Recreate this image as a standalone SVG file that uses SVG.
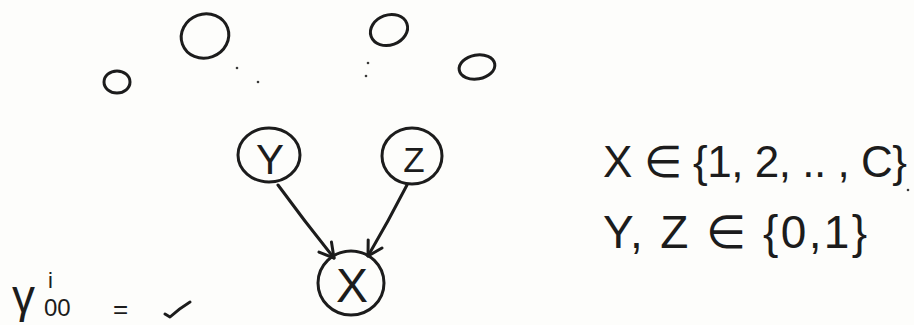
<svg xmlns="http://www.w3.org/2000/svg" width="914" height="325" viewBox="0 0 914 325">
<style>
.ink{fill:none;stroke:#1c1c1c;stroke-width:3;stroke-linecap:round;stroke-linejoin:round}
.lbl{font-family:"Liberation Sans",Arial,sans-serif;fill:#1c1c1c;font-weight:normal}
.dot{fill:#3a3a3a}
</style>
<defs>
<marker id="ah" viewBox="0 0 20 20" refX="17" refY="10" markerWidth="20" markerHeight="20" markerUnits="userSpaceOnUse" orient="auto">
<path d="M3,2 L17,10 L3,18" fill="none" stroke="#1c1c1c" stroke-width="3" stroke-linecap="round" stroke-linejoin="round"/>
</marker>
</defs>
<rect width="914" height="325" fill="#fdfdfb"/>
<g id="background-shapes">
<ellipse class="ink" cx="117" cy="82" rx="13" ry="11"/>
<ellipse class="ink" cx="205" cy="36" rx="24" ry="22" transform="rotate(-20 205 36)"/>
<ellipse class="ink" cx="389" cy="30" rx="19" ry="15" transform="rotate(-20 389 30)"/>
<ellipse class="ink" cx="477" cy="67" rx="18" ry="12" transform="rotate(-10 477 67)"/>
<circle class="dot" cx="237" cy="68" r="1.3"/>
<circle class="dot" cx="258" cy="82" r="1.3"/>
<circle class="dot" cx="368" cy="63" r="1.3"/>
<circle class="dot" cx="366" cy="76" r="1.3"/>
<circle class="dot" cx="908" cy="190" r="1.3"/>
</g>
<g id="connectors">
<path class="ink" d="M278,185 Q305,222 334,258" marker-end="url(#ah)"/>
<path class="ink" d="M407,185 Q388,222 368,256" marker-end="url(#ah)"/>
</g>
<g id="node-Y">
<ellipse class="ink" cx="269" cy="155" rx="31" ry="27"/>
<text class="lbl" x="270" y="174" font-size="42" text-anchor="middle">Y</text>
</g>
<g id="node-Z">
<ellipse class="ink" cx="412" cy="156" rx="30" ry="28"/>
<text class="lbl" x="414" y="172" font-size="35" text-anchor="middle">Z</text>
</g>
<g id="node-X">
<ellipse class="ink" cx="351" cy="283" rx="33" ry="32"/>
<text class="lbl" x="352" y="302" font-size="48" text-anchor="middle">X</text>
</g>
<g id="domains">
<text class="lbl" x="603" y="177" font-size="44" textLength="304" lengthAdjust="spacing">X ∈ {1, 2, .. , C}</text>
<text class="lbl" x="603" y="248" font-size="46" textLength="264" lengthAdjust="spacing">Y, Z ∈ {0,1}</text>
</g>
<g id="equation">
<text class="lbl" x="12" y="312" font-size="46">γ</text>
<text class="lbl" x="48" y="288" font-size="22">i</text>
<text class="lbl" x="44" y="316" font-size="24">00</text>
<text class="lbl" x="113" y="318" font-size="26">=</text>
<path class="ink" d="M165,314 L170,317 Q180,308 190,302"/>
</g>
</svg>
